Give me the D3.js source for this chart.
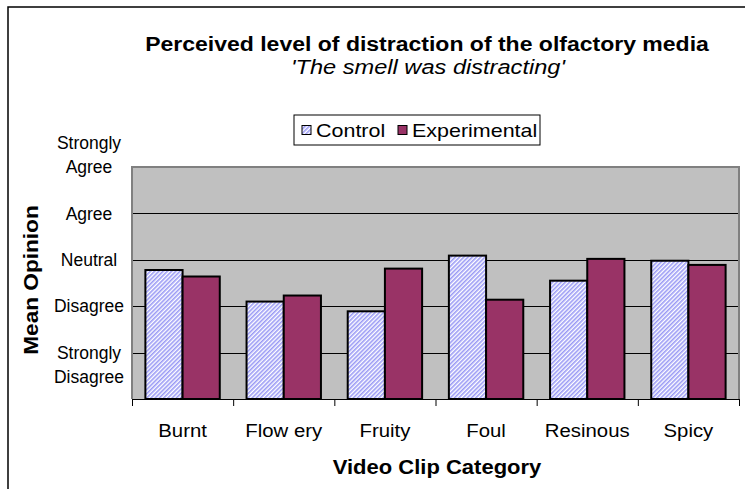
<!DOCTYPE html>
<html>
<head>
<meta charset="utf-8">
<script src="https://cdn.jsdelivr.net/npm/d3@7"></script>
<style>
  html, body { margin: 0; padding: 0; background: #fff; }
  svg { display: block; font-family: "Liberation Sans", Arial, sans-serif; }
</style>
</head>
<body>
<svg id="chart" width="745" height="489"></svg>
<script>
// ---- data ----
const categories = ["Burnt", "Flow ery", "Fruity", "Foul", "Resinous", "Spicy"];
const seriesNames = ["Control", "Experimental"];
const controlValues = [2.78, 2.10, 1.89, 3.09, 2.55, 2.98];
const experimentalValues = [2.64, 2.23, 2.81, 2.14, 3.02, 2.89];
const yTickValues = [1, 2, 3, 4, 5];
const yTickLabels = ["Strongly Disagree", "Disagree", "Neutral", "Agree", "Strongly Agree"];
const titleText = "Perceived level of distraction of the olfactory media";
const subtitleText = "'The smell was distracting'";
const xAxisTitle = "Video Clip Category";
const yAxisTitle = "Mean Opinion";

// ---- layout ----
const svg = d3.select("#chart");
const plot = { left: 132, right: 739, top: 167, bottom: 399 };
const colors = { Control: "url(#hatch)", Experimental: "#993366" };

// widen glyphs a little, like the original rendering
function stretch(sel, k) {
  sel.each(function () {
    const w = this.getComputedTextLength();
    d3.select(this).attr("textLength", w * k).attr("lengthAdjust", "spacingAndGlyphs");
  });
  return sel;
}

const defs = svg.append("defs");
const pat = defs.append("pattern")
  .attr("id", "hatch").attr("patternUnits", "userSpaceOnUse")
  .attr("width", 3).attr("height", 3)
  .attr("patternTransform", "rotate(45)");
pat.append("rect").attr("width", 3).attr("height", 3).attr("fill", "#ffffff");
pat.append("rect").attr("width", 1.6).attr("height", 3).attr("fill", "#9a9af5");

// outer border
svg.append("rect").attr("x", 8).attr("y", 7).attr("width", 760).attr("height", 500)
  .attr("fill", "none").attr("stroke", "#000").attr("stroke-width", 1.5);

const x = d3.scaleBand().domain(categories).range([plot.left, plot.right]);
const xInner = d3.scaleBand().domain(seriesNames).range([0, x.bandwidth()])
  .paddingOuter(0.36);
const y = d3.scaleLinear().domain([0, 5]).range([plot.bottom, plot.top]);

// plot background
svg.append("rect").attr("x", plot.left).attr("y", plot.top)
  .attr("width", plot.right - plot.left).attr("height", plot.bottom - plot.top)
  .attr("fill", "#c0c0c0");

// gridlines
svg.append("g").selectAll("line").data(yTickValues.filter(v => v < 5)).join("line")
  .attr("x1", plot.left).attr("x2", plot.right)
  .attr("y1", d => Math.round(y(d)) + 0.5).attr("y2", d => Math.round(y(d)) + 0.5)
  .attr("stroke", "#000").attr("stroke-width", 1);

// plot border (left, top, right)
svg.append("path")
  .attr("d", `M${plot.left},${plot.bottom}V${plot.top}H${plot.right}V${plot.bottom}`)
  .attr("fill", "none").attr("stroke", "#808080").attr("stroke-width", 2);

// bars
const rows = categories.map((c, i) => ({ cat: c, vals: [
  { s: "Control", v: controlValues[i] },
  { s: "Experimental", v: experimentalValues[i] }] }));
svg.append("g").selectAll("g").data(rows).join("g")
  .attr("transform", d => `translate(${x(d.cat)},0)`)
  .selectAll("rect").data(d => d.vals).join("rect")
  .attr("x", d => xInner(d.s)).attr("width", xInner.bandwidth())
  .attr("y", d => y(d.v)).attr("height", d => y(0) - y(d.v))
  .attr("fill", d => colors[d.s]).attr("stroke", "#000").attr("stroke-width", 2);

// x axis
const gx = svg.append("g").attr("transform", `translate(0,${plot.bottom})`);
gx.append("line").attr("x1", plot.left).attr("x2", plot.right + 1)
  .attr("y1", 0.5).attr("y2", 0.5).attr("stroke", "#000");
gx.selectAll("line.tk").data(d3.range(categories.length + 1)).join("line")
  .attr("class", "tk")
  .attr("x1", i => plot.left + i * x.step() + 0.5).attr("x2", i => plot.left + i * x.step() + 0.5)
  .attr("y1", 0).attr("y2", 7).attr("stroke", "#000");
stretch(gx.selectAll("text.cat").data(categories).join("text").attr("class", "cat")
  .attr("x", c => x(c) + x.bandwidth() / 2).attr("y", 38)
  .attr("text-anchor", "middle").attr("font-size", 18).attr("fill", "#000").text(c => c), 1.13);

// y labels
const gy = svg.append("g");
yTickValues.forEach((v, i) => {
  const words = yTickLabels[i].split(" ");
  const lines = words.length > 1 ? words : [yTickLabels[i]];
  const lh = 24;
  const start = v === 5 ? y(v) - lh * (lines.length - 1) : y(v);
  lines.forEach((ln, j) => {
    gy.append("text").attr("x", 89).attr("y", start + j * lh)
      .attr("dy", "0.35em").attr("text-anchor", "middle")
      .attr("font-size", 17.5).attr("fill", "#000").text(ln);
  });
});

// titles
stretch(svg.append("text").attr("x", 427).attr("y", 51).attr("text-anchor", "middle")
  .attr("font-size", 20).attr("font-weight", "bold").text(titleText), 1.15);
stretch(svg.append("text").attr("x", 428).attr("y", 74).attr("text-anchor", "middle")
  .attr("font-size", 20).attr("font-style", "italic").text(subtitleText), 1.18);
stretch(svg.append("text").attr("x", 437).attr("y", 474).attr("text-anchor", "middle")
  .attr("font-size", 20).attr("font-weight", "bold").text(xAxisTitle), 1.1);
stretch(svg.append("text").attr("transform", `translate(38,${(plot.top + plot.bottom) / 2 - 3}) rotate(-90)`)
  .attr("text-anchor", "middle").attr("font-size", 20).attr("font-weight", "bold").text(yAxisTitle), 1.13);

// legend
const lg = svg.append("g").attr("transform", "translate(294,115)");
lg.append("rect").attr("width", 246).attr("height", 30).attr("fill", "#fff")
  .attr("stroke", "#000").attr("stroke-width", 1);
const lx = [8, 104];
seriesNames.forEach((s, i) => {
  lg.append("rect").attr("x", lx[i]).attr("y", 10.5).attr("width", 9).attr("height", 9)
    .attr("fill", colors[s]).attr("stroke", "#000").attr("stroke-width", 1);
  stretch(lg.append("text").attr("x", lx[i] + 14).attr("y", 15).attr("dy", "0.35em")
    .attr("font-size", 19).text(s), 1.13);
});
</script>
</body>
</html>
